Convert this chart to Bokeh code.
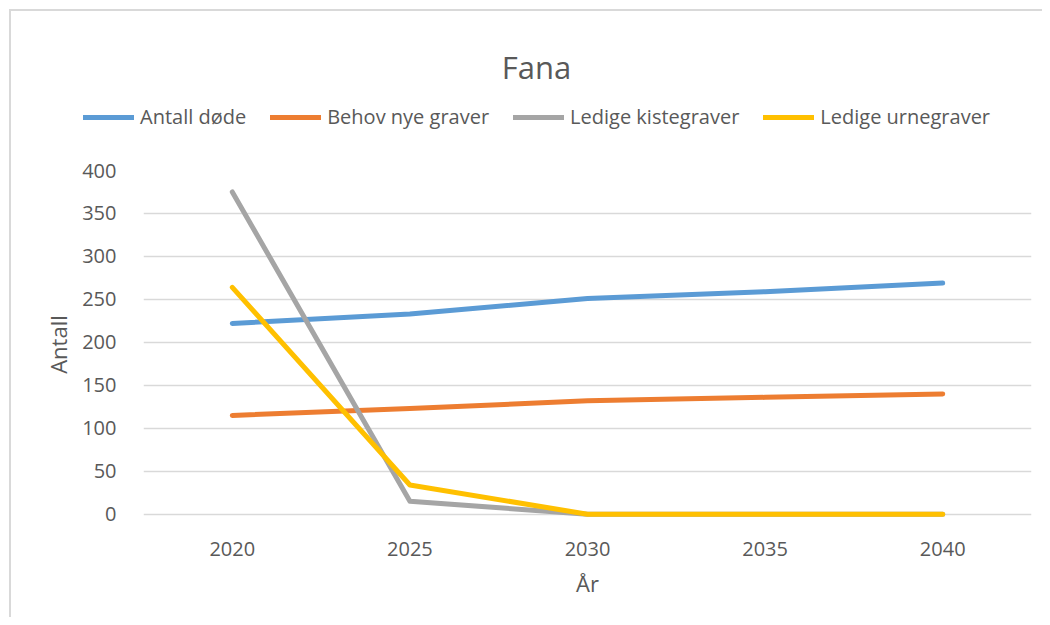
from bokeh.plotting import figure
from bokeh.layouts import column
from bokeh.models import Range1d, FactorRange, Legend, LegendItem, SingleIntervalTicker, Label
from bokeh.embed import file_html
from bokeh.resources import INLINE

years = ["2020", "2025", "2030", "2035", "2040"]
antall_dode = [222, 233, 251, 259, 269]
behov_nye_graver = [115, 123, 132, 136, 140]
ledige_kistegraver = [375, 15, 0, 0, 0]
ledige_urnegraver = [264, 34, 0, 0, 0]
series_names = ["Antall døde", "Behov nye graver", "Ledige kistegraver", "Ledige urnegraver"]
series_values = [antall_dode, behov_nye_graver, ledige_kistegraver, ledige_urnegraver]
colors = ["#5B9BD5", "#ED7D31", "#A5A5A5", "#FFC000"]

FONT = "Open Sans"
TXT = "#595959"
OFF = 11          # chart-area margin + border
W = 1042 - OFF
HEAD_H = 130 - OFF

# ---- header (title + legend) ----
h = figure(width=W, height=HEAD_H, x_range=FactorRange(*years), y_range=Range1d(1000, 1100),
           output_backend="svg", toolbar_location=None,
           x_axis_location=None, y_axis_location=None,
           min_border_left=0, min_border_right=0, min_border_top=0, min_border_bottom=0)
h.frame_align = False
h.outline_line_color = None
h.grid.grid_line_color = None
h.border_fill_color = "white"

items = []
for name, vals, c in zip(series_names, series_values, colors):
    r = h.line(years, vals, line_color=c, line_width=5, line_cap="round")
    items.append(LegendItem(label=name, renderers=[r]))

legend = Legend(items=items, orientation="horizontal", location=(83 - OFF, 0),
                glyph_width=51, glyph_height=22, label_standoff=6, spacing=24,
                padding=0, margin=0, border_line_color=None, background_fill_alpha=0,
                label_text_font=FONT, label_text_font_size="20px", label_text_color=TXT)
h.add_layout(legend, "center")

h.add_layout(Label(x=536 - OFF, y=130 - 66, x_units="screen", y_units="screen", text="Fana",
                   text_align="center", text_baseline="alphabetic", text_font=FONT,
                   text_font_size="31px", text_color=TXT))

# ---- main plot ----
p = figure(width=W, height=617 - 130, x_range=FactorRange(*years), y_range=Range1d(-5, 400),
           output_backend="svg", toolbar_location=None,
           min_border_left=143 - OFF, min_border_right=11, min_border_top=40,
           min_border_bottom=99)
p.frame_align = False
p.outline_line_color = None
p.border_fill_color = "white"

p.yaxis.ticker = SingleIntervalTicker(interval=50)
for ax in (p.xaxis[0], p.yaxis[0]):
    ax.axis_line_color = None
    ax.major_tick_line_color = None
    ax.minor_tick_line_color = None
    ax.major_label_text_font = FONT
    ax.major_label_text_font_size = "20px"
    ax.major_label_text_color = TXT
    ax.axis_label_text_font = FONT
    ax.axis_label_text_font_size = "22px"
    ax.axis_label_text_font_style = "normal"
    ax.axis_label_text_color = TXT
p.yaxis.axis_label = "Antall"
p.xaxis.axis_label = "År"
p.yaxis.major_label_standoff = 21
p.yaxis.axis_label_standoff = 6
p.xaxis.major_label_standoff = 17
p.xaxis.axis_label_standoff = 9

p.xgrid.grid_line_color = None
p.ygrid.grid_line_color = "#D9D9D9"
p.ygrid.grid_line_width = 1.5

for vals, c in zip(series_values, colors):
    p.line(years, vals, line_color=c, line_width=5, line_cap="round", line_join="round")

layout = column(h, p, spacing=0, margin=(9, 0, 0, 9),
                styles={"border-top": "2px solid #D9D9D9", "border-left": "2px solid #D9D9D9"})
open("out.html", "w").write(file_html(layout, INLINE))
